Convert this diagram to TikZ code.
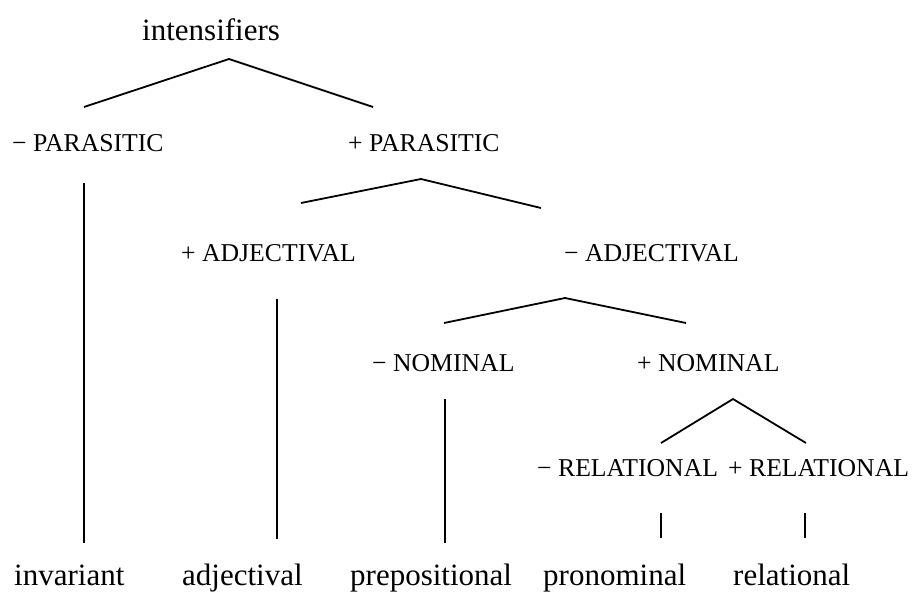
\documentclass[tikz,border=0pt]{standalone}
\usepackage{fontspec}
\setmainfont{Liberation Serif}
\begin{document}
\begin{tikzpicture}[x=1pt,y=-1pt,
  word/.style={anchor=base west,inner sep=0pt,font=\fontsize{31}{31}\selectfont},
  feat/.style={anchor=base west,inner sep=0pt,font=\fontsize{25.7}{26}\selectfont},
  branch/.style={draw,line width=1.8pt,line cap=butt,line join=miter}]
\useasboundingbox (0,0) rectangle (920,592);
% labels
\node[word] (root) at (142,40) {intensifiers};
\node[feat] (mpar) at (12,151) {− PARASITIC};
\node[feat] (ppar) at (348,151) {+ PARASITIC};
\node[feat] (padj) at (181,261) {+ ADJECTIVAL};
\node[feat] (madj) at (564,261) {− ADJECTIVAL};
\node[feat] (mnom) at (372,371) {− NOMINAL};
\node[feat] (pnom) at (637,371) {+ NOMINAL};
\node[feat] (mrel) at (537,476) {− RELATIONAL};
\node[feat] (prel) at (728,476) {+ RELATIONAL};
\node[word] (inv) at (14,585) {invariant};
\node[word] (adj) at (182,585) {adjectival};
\node[word] (prep) at (350,585) {prepositional};
\node[word] (pron) at (543,585) {pronominal};
\node[word] (rel) at (733,585) {relational};
% branch points
\coordinate (a0) at (229,59);
\coordinate (a0l) at (84,107);
\coordinate (a0r) at (373,107);
\coordinate (a1) at (421,179);
\coordinate (a1l) at (301,203);
\coordinate (a1r) at (541,208);
\coordinate (a2) at (565,298);
\coordinate (a2l) at (444,323);
\coordinate (a2r) at (686,323);
\coordinate (a3) at (733,399);
\coordinate (a3l) at (661,443);
\coordinate (a3r) at (806,443);
% vertical stems
\coordinate (v1t) at (84,183);  \coordinate (v1b) at (84,543);
\coordinate (v2t) at (277,299); \coordinate (v2b) at (277,539);
\coordinate (v3t) at (445,399); \coordinate (v3b) at (445,543);
\coordinate (v4t) at (661,513); \coordinate (v4b) at (661,538);
\coordinate (v5t) at (805,513); \coordinate (v5b) at (805,538);
% connectors
\path[branch] (a0l) -- (a0) -- (a0r);
\path[branch] (a1l) -- (a1) -- (a1r);
\path[branch] (a2l) -- (a2) -- (a2r);
\path[branch] (a3l) -- (a3) -- (a3r);
\path[branch] (v1t) -- (v1b);
\path[branch] (v2t) -- (v2b);
\path[branch] (v3t) -- (v3b);
\path[branch] (v4t) -- (v4b);
\path[branch] (v5t) -- (v5b);
\end{tikzpicture}
\end{document}
